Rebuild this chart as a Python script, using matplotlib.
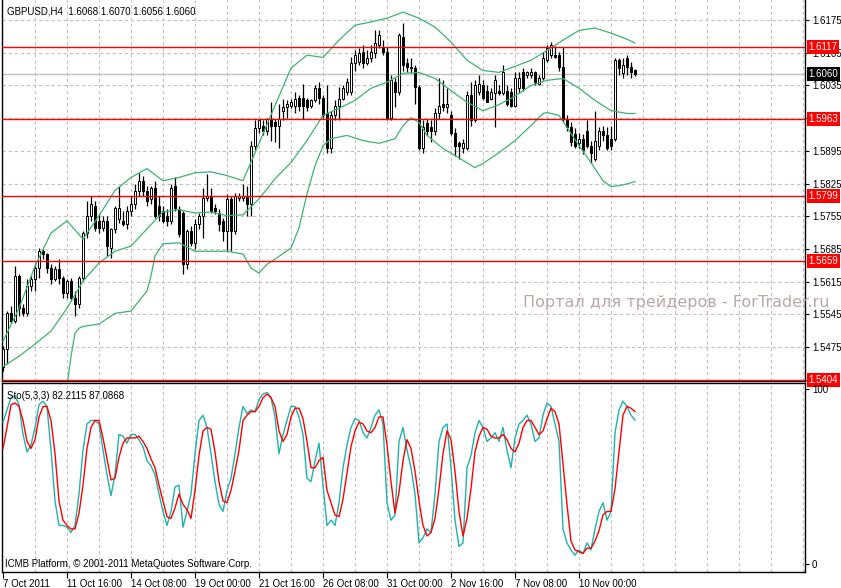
import matplotlib
matplotlib.use("Agg")
import matplotlib.pyplot as plt
import matplotlib.transforms as mtransforms

plt.rcParams['font.family'] = ['Liberation Sans', 'DejaVu Sans']

# GBPUSD H4 candles, 7 Oct 2011 00:00 onwards
opens = [
    1.5433, 1.5470, 1.5547, 1.5530, 1.5627, 1.5558, 1.5547, 1.5605, 1.5620, 1.5644,
    1.5680, 1.5674, 1.5644, 1.5620, 1.5642, 1.5622, 1.5590, 1.5616, 1.5580, 1.5567,
    1.5622, 1.5719, 1.5756, 1.5777, 1.5745, 1.5730, 1.5745, 1.5687, 1.5728, 1.5749,
    1.5745, 1.5739, 1.5767, 1.5782, 1.5810, 1.5831, 1.5810, 1.5792, 1.5816, 1.5777,
    1.5767, 1.5756, 1.5745, 1.5820, 1.5771, 1.5762, 1.5652, 1.5724, 1.5698, 1.5739,
    1.5756, 1.5794, 1.5799, 1.5773, 1.5762, 1.5745, 1.5724, 1.5792, 1.5724, 1.5794,
    1.5794, 1.5799, 1.5782, 1.5906, 1.5943, 1.5949, 1.5938, 1.5964, 1.5956, 1.5949,
    1.5981, 1.5988, 1.5992, 1.5992, 1.6009, 1.6009, 1.6003, 1.5992, 1.6003, 1.6029,
    1.6009, 1.5975, 1.5902, 1.5971, 1.5992, 1.6007, 1.6020, 1.6020, 1.6083, 1.6085,
    1.6106, 1.6083, 1.6093, 1.6104, 1.6121, 1.6115, 1.6106, 1.5966, 1.6042, 1.6020,
    1.6138, 1.6083, 1.6074, 1.6072, 1.6031, 1.5900, 1.5954, 1.5945, 1.5938, 1.5975,
    1.5996, 1.5988, 1.5971, 1.5934, 1.5911, 1.5900, 1.5900, 1.6014, 1.5960, 1.6020,
    1.6035, 1.6024, 1.6007, 1.6018, 1.6024, 1.6018, 1.6024, 1.6020, 1.5992, 1.6029,
    1.6063, 1.6057, 1.6057, 1.6063, 1.6039, 1.6052, 1.6089, 1.6100, 1.6100, 1.6100,
    1.6074, 1.5964, 1.5945, 1.5932, 1.5911, 1.5921, 1.5938, 1.5906, 1.5878, 1.5906,
    1.5938, 1.5928, 1.5921, 1.5921, 1.6089, 1.6061, 1.6093, 1.6074, 1.6068,
]
highs = [
    1.5476, 1.5552, 1.5562, 1.5648, 1.5631, 1.5567, 1.5620, 1.5627, 1.5655, 1.5687,
    1.5685, 1.5676, 1.5652, 1.5648, 1.5663, 1.5627, 1.5620, 1.5622, 1.5595, 1.5627,
    1.5724, 1.5788, 1.5799, 1.5788, 1.5760, 1.5756, 1.5756, 1.5730, 1.5777, 1.5820,
    1.5767, 1.5777, 1.5799, 1.5825, 1.5848, 1.5842, 1.5820, 1.5820, 1.5831, 1.5799,
    1.5777, 1.5771, 1.5825, 1.5840, 1.5777, 1.5767, 1.5728, 1.5734, 1.5749, 1.5762,
    1.5816, 1.5846, 1.5816, 1.5782, 1.5771, 1.5752, 1.5803, 1.5799, 1.5805, 1.5805,
    1.5825, 1.5820, 1.5917, 1.5960, 1.5964, 1.5960, 1.5966, 1.5999, 1.5964, 1.5996,
    1.6007, 1.6003, 1.6007, 1.6020, 1.6014, 1.6039, 1.6009, 1.6007, 1.6035, 1.6042,
    1.6014, 1.6035, 1.5981, 1.6003, 1.6031, 1.6035, 1.6050, 1.6095, 1.6110, 1.6115,
    1.6121, 1.6110, 1.6121, 1.6153, 1.6153, 1.6132, 1.6117, 1.6057, 1.6050, 1.6147,
    1.6169, 1.6093, 1.6093, 1.6078, 1.6035, 1.5960, 1.5964, 1.5960, 1.5986, 1.6050,
    1.6046, 1.6029, 1.5981, 1.5943, 1.5917, 1.5921, 1.6024, 1.6042, 1.6046, 1.6057,
    1.6046, 1.6035, 1.6029, 1.6057, 1.6035, 1.6078, 1.6035, 1.6029, 1.6063, 1.6063,
    1.6072, 1.6067, 1.6072, 1.6067, 1.6057, 1.6106, 1.6121, 1.6128, 1.6119, 1.6106,
    1.6117, 1.5971, 1.5956, 1.5943, 1.5934, 1.5932, 1.5960, 1.5917, 1.5981, 1.5945,
    1.5949, 1.5945, 1.5949, 1.6093, 1.6093, 1.6093, 1.6100, 1.6085, 1.6070,
]
lows = [
    1.5423, 1.5438, 1.5526, 1.5526, 1.5541, 1.5541, 1.5541, 1.5595, 1.5595, 1.5622,
    1.5663, 1.5633, 1.5610, 1.5616, 1.5610, 1.5580, 1.5580, 1.5573, 1.5541, 1.5558,
    1.5616, 1.5708, 1.5745, 1.5724, 1.5719, 1.5724, 1.5670, 1.5665, 1.5719, 1.5741,
    1.5734, 1.5728, 1.5756, 1.5771, 1.5799, 1.5799, 1.5777, 1.5782, 1.5752, 1.5745,
    1.5741, 1.5734, 1.5739, 1.5767, 1.5711, 1.5631, 1.5642, 1.5691, 1.5685, 1.5728,
    1.5708, 1.5788, 1.5762, 1.5760, 1.5724, 1.5702, 1.5680, 1.5680, 1.5717, 1.5788,
    1.5788, 1.5756, 1.5756, 1.5896, 1.5934, 1.5928, 1.5928, 1.5917, 1.5913, 1.5900,
    1.5960, 1.5966, 1.5986, 1.5977, 1.5981, 1.5964, 1.5981, 1.5986, 1.5999, 1.5996,
    1.5966, 1.5891, 1.5891, 1.5960, 1.5960, 1.6003, 1.6014, 1.6014, 1.6067, 1.6078,
    1.6072, 1.6078, 1.6085, 1.6093, 1.6115, 1.6100, 1.5960, 1.5960, 1.5988, 1.6014,
    1.6067, 1.6063, 1.6061, 1.5996, 1.5896, 1.5891, 1.5928, 1.5913, 1.5928, 1.5964,
    1.5981, 1.5977, 1.5928, 1.5885, 1.5878, 1.5891, 1.5896, 1.5949, 1.5956, 1.6014,
    1.6003, 1.5999, 1.6003, 1.5945, 1.6014, 1.6014, 1.5992, 1.5988, 1.5988, 1.6018,
    1.6024, 1.6050, 1.6050, 1.6035, 1.6035, 1.6046, 1.6085, 1.6093, 1.6093, 1.6067,
    1.5956, 1.5938, 1.5906, 1.5900, 1.5902, 1.5889, 1.5900, 1.5870, 1.5874, 1.5896,
    1.5917, 1.5896, 1.5896, 1.5917, 1.6057, 1.6052, 1.6057, 1.6052, 1.6056,
]
closes = [
    1.5470, 1.5547, 1.5530, 1.5627, 1.5558, 1.5547, 1.5605, 1.5620, 1.5644, 1.5680,
    1.5674, 1.5644, 1.5620, 1.5642, 1.5622, 1.5590, 1.5616, 1.5580, 1.5567, 1.5622,
    1.5719, 1.5756, 1.5782, 1.5730, 1.5730, 1.5745, 1.5691, 1.5728, 1.5773, 1.5773,
    1.5739, 1.5767, 1.5782, 1.5810, 1.5831, 1.5810, 1.5788, 1.5816, 1.5756, 1.5756,
    1.5745, 1.5745, 1.5816, 1.5773, 1.5717, 1.5652, 1.5724, 1.5698, 1.5739, 1.5756,
    1.5794, 1.5799, 1.5767, 1.5767, 1.5739, 1.5724, 1.5792, 1.5724, 1.5799, 1.5799,
    1.5799, 1.5782, 1.5906, 1.5943, 1.5960, 1.5938, 1.5964, 1.5949, 1.5949, 1.5964,
    1.5988, 1.5996, 1.5999, 1.6007, 1.5990, 1.5990, 1.5988, 1.6003, 1.6029, 1.6009,
    1.5971, 1.5902, 1.5971, 1.5992, 1.6007, 1.6029, 1.6042, 1.6083, 1.6100, 1.6104,
    1.6083, 1.6093, 1.6106, 1.6126, 1.6143, 1.6106, 1.5966, 1.6046, 1.6020, 1.6143,
    1.6078, 1.6074, 1.6072, 1.6031, 1.5900, 1.5945, 1.5938, 1.5938, 1.5975, 1.5992,
    1.5988, 1.5996, 1.5934, 1.5906, 1.5906, 1.5911, 1.6014, 1.5960, 1.6035, 1.6039,
    1.6009, 1.5999, 1.6020, 1.6046, 1.6018, 1.6063, 1.5996, 1.5992, 1.6052, 1.6052,
    1.6029, 1.6063, 1.6063, 1.6042, 1.6052, 1.6093, 1.6115, 1.6121, 1.6095, 1.6074,
    1.5964, 1.5945, 1.5913, 1.5906, 1.5921, 1.5896, 1.5906, 1.5891, 1.5917, 1.5938,
    1.5928, 1.5902, 1.5906, 1.6089, 1.6072, 1.6078, 1.6074, 1.6063, 1.6060,
]

band_bars = list(range(0, 157, 4)) + [158]
bb_upper = [
    1.5487, 1.5558, 1.5648, 1.5719, 1.5745, 1.5706, 1.5756, 1.5810, 1.5838, 1.5857,
    1.5831, 1.5838, 1.5848, 1.5850, 1.5842, 1.5831, 1.5911, 1.5992, 1.6072, 1.6100,
    1.6095, 1.6132, 1.6164, 1.6171, 1.6179, 1.6192, 1.6179, 1.6160, 1.6128, 1.6089,
    1.6067, 1.6063, 1.6076, 1.6089, 1.6110, 1.6132, 1.6153, 1.6158, 1.6147, 1.6134,
    1.6126,
]
bb_middle = [
    1.5433, 1.5455, 1.5481, 1.5509, 1.5558, 1.5616, 1.5655, 1.5680, 1.5691, 1.5728,
    1.5764, 1.5769, 1.5762, 1.5764, 1.5756, 1.5758, 1.5792, 1.5835, 1.5870, 1.5917,
    1.5971, 1.5986, 1.6003, 1.6029, 1.6042, 1.6061, 1.6063, 1.6050, 1.6024, 1.5999,
    1.5981, 1.5994, 1.6012, 1.6035, 1.6046, 1.6050, 1.6029, 1.6003, 1.5981, 1.5975,
    1.5975,
]
lower_bars = [16, 17, 18, 19, 20, 24, 28, 32, 36, 37, 38, 40, 44, 48, 52, 56, 60, 62, 64,
              66, 68, 72, 74, 76, 78, 80, 82, 86, 90, 94, 98, 100, 102, 104, 106, 110,
              114, 118, 120, 124, 128, 132, 135, 136, 139, 141, 144, 147, 150, 152, 155, 158]
bb_lower = [1.5390, 1.5455, 1.5504, 1.5515, 1.5519, 1.5524, 1.5547, 1.5552, 1.5595, 1.5627,
            1.5670, 1.5696, 1.5698, 1.5680, 1.5680, 1.5680, 1.5674, 1.5644, 1.5633, 1.5652,
            1.5663, 1.5687, 1.5730, 1.5803, 1.5863, 1.5906, 1.5921, 1.5928, 1.5917, 1.5911,
            1.5921, 1.5949, 1.5966, 1.5956, 1.5928, 1.5900, 1.5880, 1.5859, 1.5868, 1.5891,
            1.5917, 1.5949, 1.5975, 1.5977, 1.5971, 1.5945, 1.5906, 1.5870, 1.5831, 1.5818,
            1.5822, 1.5829]

# Stochastic (5,3,3)
sto_main = [
    81, 88, 95, 96, 91, 74, 64, 68, 78, 91, 93, 90, 65, 36, 22, 22, 21, 18, 22, 40,
    65, 80, 82, 82, 80, 65, 51, 39, 51, 74, 73, 69, 74, 74, 71, 67, 59, 56, 51, 40,
    30, 22, 30, 44, 45, 21, 30, 40, 63, 82, 85, 78, 63, 47, 34, 30, 42, 49, 63, 78,
    90, 86, 88, 87, 94, 97, 98, 95, 84, 63, 74, 82, 90, 90, 84, 74, 49, 47, 59, 69,
    45, 22, 25, 22, 35, 55, 68, 78, 83, 82, 75, 72, 78, 85, 88, 80, 35, 25, 28, 70,
    78, 65, 55, 40, 12, 15, 20, 18, 40, 70, 78, 80, 55, 25, 10, 12, 55, 62, 75, 82,
    78, 70, 72, 75, 70, 78, 65, 55, 72, 80, 82, 85, 80, 70, 72, 85, 92, 90, 80, 70,
    20, 12, 8, 5, 8, 6, 12, 8, 20, 30, 35, 25, 30, 75, 88, 93, 90, 85, 82.2115,
]
sto_signal = [
    66, 78, 91, 92, 90, 82, 70, 66, 71, 84, 90, 90, 82, 63, 36, 25, 22, 20, 20, 29,
    45, 66, 78, 82, 82, 72, 60, 48, 49, 61, 69, 72, 72, 72, 73, 70, 66, 60, 55, 45,
    36, 27, 26, 32, 40, 34, 31, 26, 42, 62, 76, 78, 77, 64, 47, 36, 35, 42, 53, 65,
    82, 85, 87, 87, 90, 95, 97, 95, 90, 76, 70, 74, 84, 89, 89, 83, 70, 55, 55, 59,
    61, 42, 35, 28, 27, 37, 52, 67, 76, 81, 80, 76, 75, 78, 84, 84, 68, 47, 29, 41,
    59, 71, 66, 53, 36, 22, 16, 18, 26, 43, 63, 76, 71, 53, 30, 16, 26, 43, 64, 73,
    78, 77, 73, 72, 72, 74, 71, 66, 64, 69, 78, 82, 82, 78, 74, 76, 83, 89, 87, 80,
    57, 34, 13, 8, 7, 6, 9, 9, 13, 19, 28, 30, 30, 43, 64, 85, 90, 89, 87.0868,
]

levels = [1.6117, 1.5963, 1.5799, 1.5659, 1.5404]
bid = 1.6060
price_ticks = [1.6175, 1.6105, 1.6035, 1.5965, 1.5895, 1.5825, 1.5755, 1.5685,
               1.5615, 1.5545, 1.5475, 1.5405]
# labels that sit fully under a price tag in the terminal
covered_ticks = [1.5965, 1.5405]
time_bars = [0, 16, 32, 48, 64, 80, 96, 112, 128, 144]
time_labels = ["7 Oct 2011", "11 Oct 16:00", "14 Oct 08:00", "19 Oct 00:00",
               "21 Oct 16:00", "26 Oct 08:00", "31 Oct 00:00", "2 Nov 16:00",
               "7 Nov 08:00", "10 Nov 00:00"]

W, H = 841, 588
fig = plt.figure(figsize=(W / 100, H / 100), dpi=100)
fig.patch.set_facecolor('white')


def px_axes(x0, y0, x1, y1):
    return fig.add_axes([x0 / W, 1 - y1 / H, (x1 - x0) / W, (y1 - y0) / H])


ax = px_axes(2, 0, 805, 381)
ax2 = px_axes(2, 383, 805, 572)

xmin, xmax = -0.25, 200.5
grid_kw = dict(color='#c0c0c0', lw=0.8, linestyle=(0, (3, 2.5)))
fs = 7

# --- main panel ---
ax.set_xlim(xmin, xmax)
ax.set_ylim(1.54021, 1.62180)
for b in range(8, 201, 8):
    ax.axvline(b, zorder=0, **grid_kw)
for p in price_ticks:
    ax.axhline(p, zorder=0, **grid_kw)

n = len(closes)
for i in range(n):
    o, h, l, c = opens[i], highs[i], lows[i], closes[i]
    ax.vlines(i, l, h, color='black', lw=0.9, zorder=3)
    lo, hi = min(o, c), max(o, c)
    if hi - lo < 0.00005:
        ax.hlines(o, i - 0.35, i + 0.35, color='black', lw=0.9, zorder=3)
    else:
        face = 'white' if c >= o else 'black'
        ax.bar(i, hi - lo, bottom=lo, width=0.62, color=face,
               edgecolor='black', lw=0.7, zorder=3)

green = '#3cb371'
ax.plot(band_bars, bb_upper, color=green, lw=0.9, zorder=4)
ax.plot(band_bars, bb_middle, color=green, lw=0.9, zorder=4)
ax.plot(lower_bars, bb_lower, color=green, lw=0.9, zorder=4)

ax.axhline(bid, color='#c0c0c0', lw=1.0, zorder=2)
for lv in levels:
    ax.axhline(lv, color='#ff0000', lw=1.0, zorder=5)

ax.set_yticks(price_ticks)
ax.set_yticklabels(["" if p in covered_ticks else f"{p:.4f}" for p in price_ticks])
ax.yaxis.tick_right()
ax.tick_params(axis='y', direction='out', length=3, width=0.8, pad=2,
               labelsize=fs, colors='black')
ax.tick_params(axis='x', bottom=False, labelbottom=False)
for s in ['left', 'right', 'bottom']:
    ax.spines[s].set_color('black')
    ax.spines[s].set_linewidth(1.0)
ax.spines['top'].set_visible(False)

trans = mtransforms.blended_transform_factory(ax.transAxes, ax.transData)
tag_x = 1.0045
for lv in levels:
    ax.text(tag_x, lv, f"{lv:.4f}", transform=trans, color='white', fontsize=fs,
            va='center', ha='left', clip_on=False, zorder=10,
            bbox=dict(boxstyle='square,pad=0.2', fc='#ff0000', ec='none'))
ax.text(tag_x, bid, f"{bid:.4f}", transform=trans, color='white', fontsize=fs,
        va='center', ha='left', clip_on=False, zorder=10,
        bbox=dict(boxstyle='square,pad=0.2', fc='black', ec='none'))

# --- stochastic panel ---
ax2.set_xlim(xmin, xmax)
ax2.set_ylim(-4.6, 103.4)
for b in range(8, 201, 8):
    ax2.axvline(b, zorder=0, **grid_kw)
bars = list(range(n))
ax2.plot(bars, sto_main, color='#20b2aa', lw=1.0, zorder=3)
ax2.plot(bars, sto_signal, color='#ff0000', lw=1.0, zorder=4)

ax2.set_yticks([100, 0])
ax2.set_yticklabels(['100', '0'])
ax2.yaxis.tick_right()
ax2.tick_params(axis='y', direction='out', length=3, width=0.8, pad=2,
                labelsize=fs, colors='black')
ax2.set_xticks(time_bars)
ax2.set_xticklabels(time_labels, ha='left')
ax2.tick_params(axis='x', direction='out', length=4, width=0.8, pad=1,
                labelsize=fs, colors='black')
for s in ['left', 'right', 'bottom', 'top']:
    ax2.spines[s].set_color('black')
    ax2.spines[s].set_linewidth(1.0)

# --- texts ---
fig.text(7 / W, 1 - 11 / H, "GBPUSD,H4  1.6068 1.6070 1.6056 1.6060",
         fontsize=fs, va='center', ha='left', color='black')
fig.text(7 / W, 1 - 396 / H, "Sto(5,3,3) 82.2115 87.0868",
         fontsize=fs, va='center', ha='left', color='black')
fig.text(5 / W, 1 - 564 / H, "ICMB Platform, \u00a9 2001-2011 MetaQuotes Software Corp.",
         fontsize=fs, va='center', ha='left', color='black')
fig.text(523 / W, 1 - 303 / H, "Портал для трейдеров - ForTrader.ru",
         fontsize=11.5, family='DejaVu Sans', va='center', ha='left',
         color='#b8a8a8', zorder=20)

fig.savefig('out.png', dpi=100, facecolor='white')
